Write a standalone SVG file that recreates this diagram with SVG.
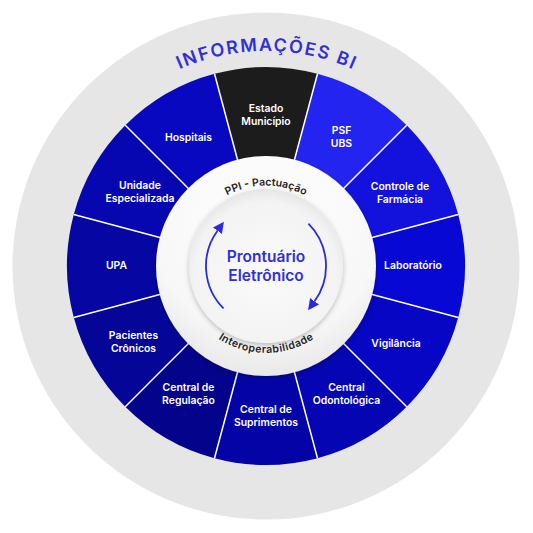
<svg xmlns="http://www.w3.org/2000/svg" xmlns:xlink="http://www.w3.org/1999/xlink" width="533" height="533" viewBox="0 0 533 533">
  <defs>
    <style>
      .lbl { font-family: Inter, "Noto Sans", "DejaVu Sans", sans-serif; font-weight: 600; font-size: 10.4px; fill: #ffffff; text-anchor: middle; }
      .ring { font-family: Inter, "Noto Sans", "DejaVu Sans", sans-serif; font-weight: 600; font-size: 10.5px; fill: #222222; text-anchor: middle; }
      .title { font-family: Inter, "Noto Sans", "DejaVu Sans", sans-serif; font-weight: 600; font-size: 18px; fill: #3030d8; text-anchor: middle; }
      .core { font-family: Inter, "Noto Sans", "DejaVu Sans", sans-serif; font-weight: 600; font-size: 15.5px; fill: #2e2ee0; text-anchor: middle; }
      .div { stroke: #ffffff; stroke-width: 1.5; }
      .arrow { fill: none; stroke: #2b2bd9; stroke-width: 1.8; marker-end: url(#ah); }
    </style>
    <marker id="ah" viewBox="0 0 10 10" refX="0" refY="5" markerUnits="userSpaceOnUse" markerWidth="11" markerHeight="11" orient="auto">
      <path d="M0 0 L10 5 L0 10 Z" fill="#2b2bd9"/>
    </marker>
    <radialGradient id="ringGrad" cx="0.5" cy="0.3" r="0.75">
      <stop offset="0" stop-color="#ffffff"/>
      <stop offset="0.7" stop-color="#f7f7f7"/>
      <stop offset="1" stop-color="#e4e4e4"/>
    </radialGradient>
    <radialGradient id="coreGrad" cx="0.5" cy="0.55" r="0.55">
      <stop offset="0" stop-color="#fbfbfb"/>
      <stop offset="0.85" stop-color="#f3f3f3"/>
      <stop offset="1" stop-color="#e6e6e6"/>
    </radialGradient>
    <filter id="sh" x="-20%" y="-20%" width="140%" height="140%">
      <feDropShadow dx="0" dy="2" stdDeviation="2.5" flood-color="#000000" flood-opacity="0.25"/>
    </filter>
    <path id="titleArc" d="M 158.5 79.8 A 215 215 0 0 1 373.5 79.8"/>
    <path id="topArc" d="M 195.9 225.0 A 82 82 0 0 1 336.1 225.0"/>
    <path id="botArc" d="M 190.7 309.5 A 87 87 0 0 0 341.3 309.5"/>
  </defs>

  <rect width="533" height="533" fill="#ffffff"/>
  <circle id="backdrop" cx="266" cy="266" r="253.5" fill="#e6e6e6"/>

  <g id="title">
    <text class="title"><textPath xlink:href="#titleArc" href="#titleArc" startOffset="50%" textLength="178" lengthAdjust="spacing">INFORMAÇÕES BI</textPath></text>
  </g>

  <g id="wheel">
    <g id="seg-estado">
      <path d="M237.79 160.72 L214.50 73.78 A199 199 0 0 1 317.50 73.78 L294.21 160.72 A109 109 0 0 0 237.79 160.72 Z" fill="#1c1c1c"/>
      <text class="lbl" x="266" y="111.5">Estado</text>
      <text class="lbl" x="266" y="124.5">Município</text>
    </g>
    <g id="seg-psf">
      <path d="M294.21 160.72 L317.50 73.78 A199 199 0 0 1 406.71 125.29 L343.07 188.93 A109 109 0 0 0 294.21 160.72 Z" fill="#2424f0"/>
      <text class="lbl" x="341.5" y="133.5">PSF</text>
      <text class="lbl" x="341.5" y="146.5">UBS</text>
    </g>
    <g id="seg-farmacia">
      <path d="M343.07 188.93 L406.71 125.29 A199 199 0 0 1 458.22 214.50 L371.28 237.79 A109 109 0 0 0 343.07 188.93 Z" fill="#1212dc"/>
      <text class="lbl" x="400" y="189.5">Controle de</text>
      <text class="lbl" x="400" y="202.5">Farmácia</text>
    </g>
    <g id="seg-laboratorio">
      <path d="M371.28 237.79 L458.22 214.50 A199 199 0 0 1 458.22 317.50 L371.28 294.21 A109 109 0 0 0 371.28 237.79 Z" fill="#0808d4"/>
      <text class="lbl" x="413" y="268.5">Laboratório</text>
    </g>
    <g id="seg-vigilancia">
      <path d="M371.28 294.21 L458.22 317.50 A199 199 0 0 1 406.71 406.71 L343.07 343.07 A109 109 0 0 0 371.28 294.21 Z" fill="#0606c4"/>
      <text class="lbl" x="396" y="347">Vigilância</text>
    </g>
    <g id="seg-odontologica">
      <path d="M343.07 343.07 L406.71 406.71 A199 199 0 0 1 317.50 458.22 L294.21 371.28 A109 109 0 0 0 343.07 343.07 Z" fill="#0505b4"/>
      <text class="lbl" x="346.5" y="391">Central</text>
      <text class="lbl" x="346.5" y="404">Odontológica</text>
    </g>
    <g id="seg-suprimentos">
      <path d="M294.21 371.28 L317.50 458.22 A199 199 0 0 1 214.50 458.22 L237.79 371.28 A109 109 0 0 0 294.21 371.28 Z" fill="#0404a6"/>
      <text class="lbl" x="266" y="412.5">Central de</text>
      <text class="lbl" x="266" y="425.5">Suprimentos</text>
    </g>
    <g id="seg-regulacao">
      <path d="M237.79 371.28 L214.50 458.22 A199 199 0 0 1 125.29 406.71 L188.93 343.07 A109 109 0 0 0 237.79 371.28 Z" fill="#03038c"/>
      <text class="lbl" x="188.5" y="391">Central de</text>
      <text class="lbl" x="188.5" y="404">Regulação</text>
    </g>
    <g id="seg-pacientes">
      <path d="M188.93 343.07 L125.29 406.71 A199 199 0 0 1 73.78 317.50 L160.72 294.21 A109 109 0 0 0 188.93 343.07 Z" fill="#050598"/>
      <text class="lbl" x="133.5" y="338.5">Pacientes</text>
      <text class="lbl" x="133.5" y="351.5">Crônicos</text>
    </g>
    <g id="seg-upa">
      <path d="M160.72 294.21 L73.78 317.50 A199 199 0 0 1 73.78 214.50 L160.72 237.79 A109 109 0 0 0 160.72 294.21 Z" fill="#0606a2"/>
      <text class="lbl" x="116.5" y="268.5">UPA</text>
    </g>
    <g id="seg-unidade">
      <path d="M160.72 237.79 L73.78 214.50 A199 199 0 0 1 125.29 125.29 L188.93 188.93 A109 109 0 0 0 160.72 237.79 Z" fill="#0707b2"/>
      <text class="lbl" x="140" y="189">Unidade</text>
      <text class="lbl" x="140" y="202">Especializada</text>
    </g>
    <g id="seg-hospitais">
      <path d="M188.93 188.93 L125.29 125.29 A199 199 0 0 1 214.50 73.78 L237.79 160.72 A109 109 0 0 0 188.93 188.93 Z" fill="#0808c0"/>
      <text class="lbl" x="188.5" y="140.5">Hospitais</text>
    </g>
    <g id="dividers">
      <line class="div" x1="237.79" y1="160.72" x2="214.50" y2="73.78"/>
      <line class="div" x1="294.21" y1="160.72" x2="317.50" y2="73.78"/>
      <line class="div" x1="343.07" y1="188.93" x2="406.71" y2="125.29"/>
      <line class="div" x1="371.28" y1="237.79" x2="458.22" y2="214.50"/>
      <line class="div" x1="371.28" y1="294.21" x2="458.22" y2="317.50"/>
      <line class="div" x1="343.07" y1="343.07" x2="406.71" y2="406.71"/>
      <line class="div" x1="294.21" y1="371.28" x2="317.50" y2="458.22"/>
      <line class="div" x1="237.79" y1="371.28" x2="214.50" y2="458.22"/>
      <line class="div" x1="188.93" y1="343.07" x2="125.29" y2="406.71"/>
      <line class="div" x1="160.72" y1="294.21" x2="73.78" y2="317.50"/>
      <line class="div" x1="160.72" y1="237.79" x2="73.78" y2="214.50"/>
      <line class="div" x1="188.93" y1="188.93" x2="125.29" y2="125.29"/>
    </g>
  </g>

  <g id="ring">
    <circle cx="266" cy="266" r="110" fill="url(#ringGrad)" filter="url(#sh)"/>
    <text class="ring"><textPath xlink:href="#topArc" href="#topArc" startOffset="50%" textLength="81" lengthAdjust="spacing">PPI - Pactuação</textPath></text>
    <text class="ring"><textPath xlink:href="#botArc" href="#botArc" startOffset="50%" textLength="101" lengthAdjust="spacing">Interoperabilidade</textPath></text>
  </g>

  <g id="core">
    <circle cx="266" cy="266" r="77" fill="url(#coreGrad)" filter="url(#sh)"/>
    <text class="core" x="266" y="262">Prontuário</text>
    <text class="core" x="266" y="281">Eletrônico</text>
  </g>

  <g id="connectors">
    <path class="arrow" d="M 223.57 308.43 A 60 60 0 0 1 217.46 230.73"/>
    <path class="arrow" d="M 308.43 223.57 A 60 60 0 0 1 314.54 301.27"/>
  </g>
</svg>
